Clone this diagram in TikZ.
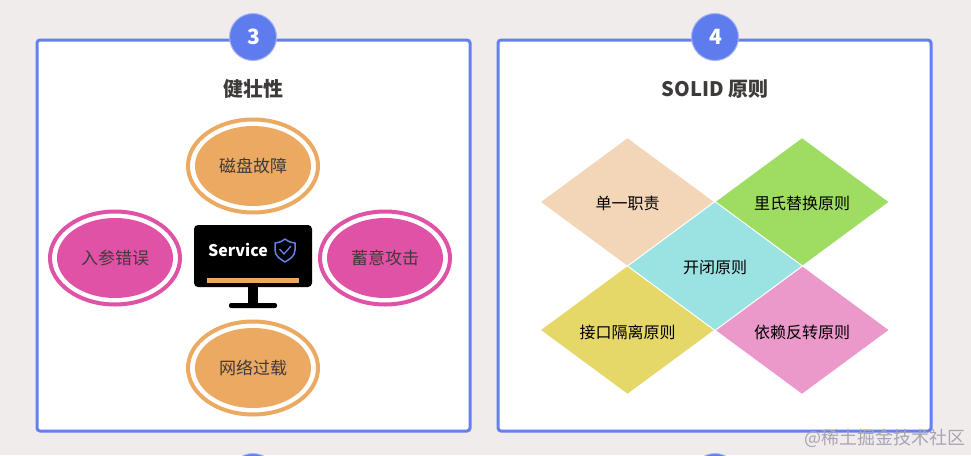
\documentclass[tikz,border=0pt]{standalone}
\usepackage{fontspec}
\setmainfont{Noto Sans CJK SC}
\usepackage{tikz}
\usetikzlibrary{shapes.geometric}
\definecolor{pagebg}{HTML}{F0ECEC}
\definecolor{cardblue}{HTML}{6480EE}
\definecolor{badgeblue}{HTML}{5F7CEE}
\definecolor{badgerim}{HTML}{A9B6F3}
\definecolor{inktext}{HTML}{3F3A3A}
\definecolor{peach}{HTML}{ECA962}
\definecolor{rose}{HTML}{E052A6}
\definecolor{sand}{HTML}{F3D5B7}
\definecolor{lime}{HTML}{9EDC62}
\definecolor{straw}{HTML}{E6D769}
\definecolor{pinkish}{HTML}{EB98CA}
\definecolor{aqua}{HTML}{9BE2E2}
\definecolor{markgrey}{HTML}{A8A4B4}
\tikzset{
  card/.style={draw=cardblue,line width=3pt,fill=white,rounded corners=3pt,minimum width=433pt,minimum height=391pt,inner sep=0pt,outer sep=0pt},
  badge/.style={circle,fill=badgeblue,draw=badgerim,line width=1pt,minimum size=47pt,inner sep=0pt,text=white,font=\bfseries\fontsize{21}{21}\selectfont},
  heading/.style={text=inktext,font=\bfseries\fontsize{20}{20}\selectfont},
  ring/.style={ellipse,draw=#1,fill=white,line width=4pt,minimum width=130pt,minimum height=93pt,inner sep=0pt,outer sep=0pt},
  core/.style={ellipse,fill=#1,minimum width=116pt,minimum height=80pt,inner sep=0pt,outer sep=0pt,text=inktext,font=\fontsize{17}{17}\selectfont},
  rhomb/.style={diamond,fill=#1,draw=white,line width=1pt,aspect=1.34,minimum width=175pt,minimum height=129pt,inner sep=0pt,outer sep=0pt,text=black,font=\fontsize{16}{16}\selectfont},
  screen/.style={fill=black,rounded corners=4pt,minimum width=118pt,minimum height=62pt,inner sep=0pt,outer sep=0pt},
  stand/.style={fill=black,minimum width=#1,inner sep=0pt,outer sep=0pt}
}
\begin{document}
\begin{tikzpicture}[x=1pt,y=-1pt]
\useasboundingbox (0,0) rectangle (971,455);
\clip (0,0) rectangle (971,455);
\fill[pagebg] (0,0) rectangle (971,455);

\node[badge] (b5) at (253,477) {};
\node[badge] (b6) at (715,477) {};

\node[card] (c3) at (253.5,235.5) {};
\node[card] (c4) at (714.5,235.5) {};
\node[badge] (b3) at (253,37) {};
\node[badge] (b4) at (715,37) {};
\node[text=white,font=\bfseries\fontsize{21}{21}\selectfont] (n3) at (253.5,37) {3};
\node[text=white,font=\bfseries\fontsize{21}{21}\selectfont] (n4) at (715.5,37) {4};
\node[heading] (t3) at (253,89) {健壮性};
\node[heading] (t4) at (715,89) {SOLID 原则};

\node[ring=peach] (r1) at (253,166) {};
\node[core=peach] (e1) at (253,166) {磁盘故障};
\node[ring=rose] (r2) at (115,258) {};
\node[core=rose] (e2) at (115,258) {入参错误};
\node[ring=rose] (r3) at (385,258) {};
\node[core=rose] (e3) at (385,258) {蓄意攻击};
\node[ring=peach] (r4) at (253,368) {};
\node[core=peach] (e4) at (253,368) {网络过载};

\node[stand=10pt,minimum height=18pt] (st) at (253,295) {};
\node[stand=48pt,minimum height=5pt,rounded corners=2pt] (ba) at (253,305.5) {};
\node[screen] (mon) at (253,256) {};
\node[fill=peach,minimum width=92pt,minimum height=4.5pt,inner sep=0pt] (bar) at (253,280.5) {};
\node[text=white,font=\bfseries\fontsize{16}{16}\selectfont] (sv) at (238,250) {Service};
\draw[cardblue,line width=1.5pt,line join=round] (285,239) .. controls (289,242) and (292,243) .. (295,243) -- (295,250) .. controls (295,256) and (290,259) .. (285,262) .. controls (280,259) and (275,256) .. (275,250) -- (275,243) .. controls (278,243) and (281,242) .. (285,239) -- cycle;
\draw[cardblue,line width=1.3pt] (279.5,249) -- (284,254) -- (291,246);

\node[rhomb=sand] (d1) at (627.5,202) {};
\node[rhomb=lime] (d2) at (802,202) {};
\node[rhomb=straw] (d3) at (627.5,330) {};
\node[rhomb=pinkish] (d4) at (802,330) {};
\node[rhomb=aqua] (d5) at (715,266) {};
\node[font=\fontsize{16}{16}\selectfont] (l1) at (627.5,203) {单一职责};
\node[font=\fontsize{16}{16}\selectfont] (l2) at (802,203) {里氏替换原则};
\node[font=\fontsize{16}{16}\selectfont] (l3) at (627.5,332) {接口隔离原则};
\node[font=\fontsize{16}{16}\selectfont] (l4) at (802,332) {依赖反转原则};
\node[font=\fontsize{16}{16}\selectfont] (l5) at (715,268) {开闭原则};

\node[text=markgrey,font=\fontsize{18}{18}\selectfont] (wm) at (885,438) {@稀土掘金技术社区};
\end{tikzpicture}
\end{document}
